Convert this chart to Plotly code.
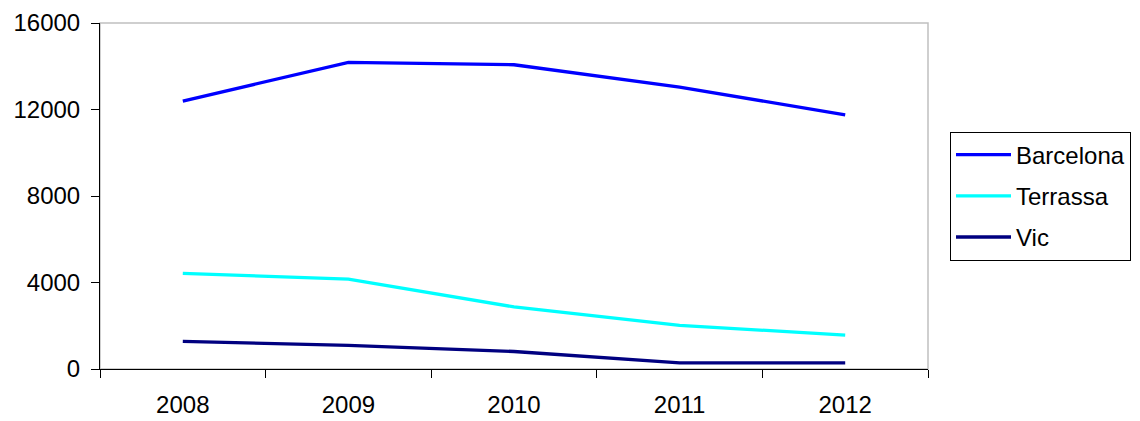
import plotly.graph_objects as go

years = ["2008", "2009", "2010", "2011", "2012"]
barcelona = [12390, 14180, 14070, 13040, 11750]
terrassa = [4420, 4160, 2870, 2020, 1570]
vic = [1280, 1090, 810, 280, 280]
y_ticks = [0, 4000, 8000, 12000, 16000]

series = [
    ("Barcelona", barcelona, "#0000FF"),
    ("Terrassa", terrassa, "#00FFFF"),
    ("Vic", vic, "#000080"),
]

fig = go.Figure()
for name, vals, color in series:
    fig.add_trace(go.Scatter(x=years, y=vals, name=name, mode="lines",
                             legendgroup=name,
                             line=dict(color=color, width=3.3)))

font = dict(family="Liberation Sans, Arial, sans-serif", size=24, color="black")

fig.update_layout(
    width=1140, height=421,
    margin=dict(l=92, r=220, t=15, b=60),
    paper_bgcolor="white", plot_bgcolor="white",
    font=font,
    showlegend=True,
    legend=dict(x=(950 - 100) / 828, y=0.5, xanchor="left", yanchor="middle",
                bordercolor="black", borderwidth=1, bgcolor="white",
                font=font, tracegroupgap=7, itemwidth=55),
    shapes=[dict(type="rect", xref="paper", yref="paper", x0=0, x1=1, y0=0, y1=1,
                 line=dict(color="#c0c0c0", width=1.5), layer="below")],
)
fig.update_xaxes(type="category", range=[-0.5, 4.5], tickson="boundaries",
                 ticks="outside", ticklen=8, tickcolor="black",
                 showline=True, linecolor="black", linewidth=1,
                 showgrid=False, zeroline=False, tickfont=font, automargin=False,
                 ticklabelstandoff=14)
fig.update_yaxes(range=[0, 16000], tickvals=y_ticks, ticktext=[str(v) for v in y_ticks],
                 ticks="outside", ticklen=8, tickcolor="black",
                 showline=True, linecolor="black", linewidth=1,
                 showgrid=False, zeroline=False, tickfont=font, automargin=False,
                 ticklabelstandoff=6)

fig.write_html("out.html")
